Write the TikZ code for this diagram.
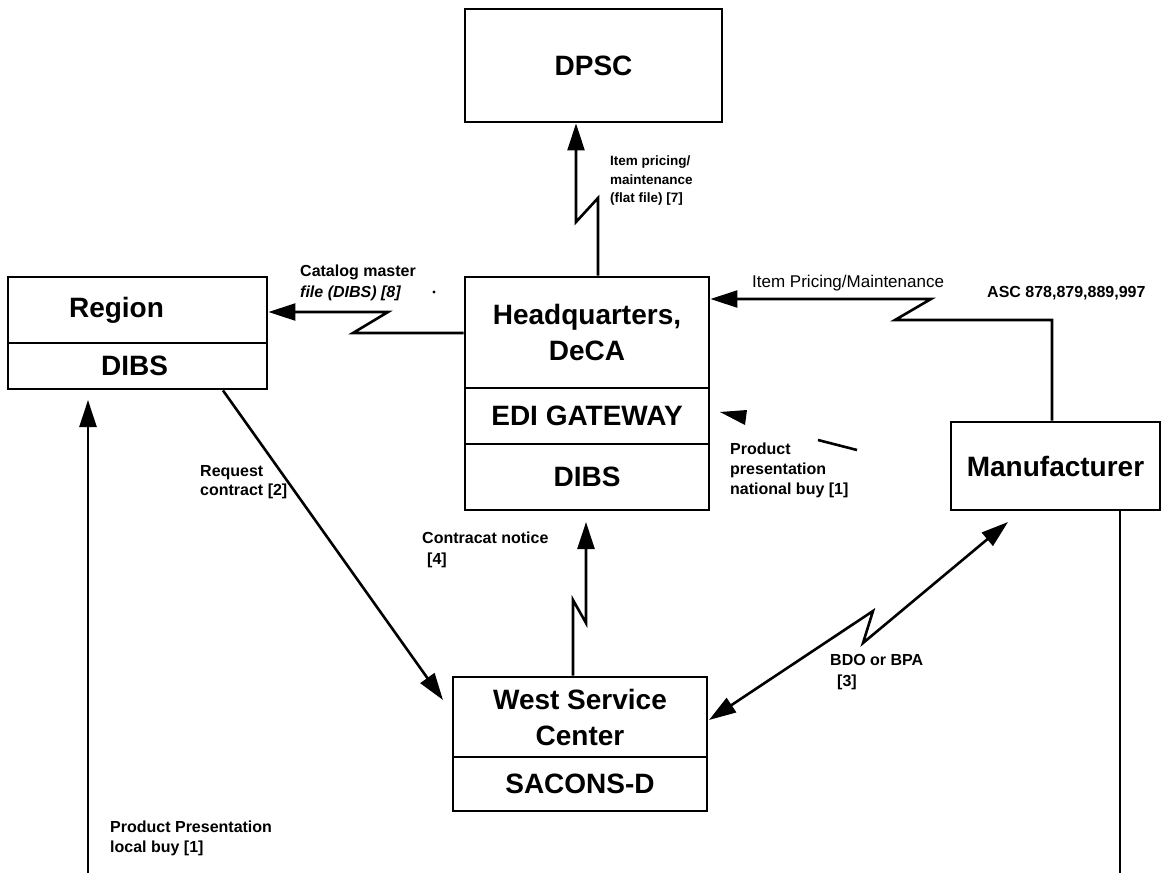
\documentclass[tikz,border=0pt]{standalone}
\usepackage{fontspec}
\setmainfont{Liberation Sans}
\usetikzlibrary{arrows.meta}
\begin{document}
\begin{tikzpicture}[x=1pt,y=-1pt,
  box/.style={draw,line width=2.9pt,inner sep=0pt,font=\bfseries\fontsize{28}{36}\selectfont,align=center},
  conn/.style={line width=2.6pt},
  tip/.style={-{Triangle[length=27pt,width=17pt]}},
  lbl/.style={inner sep=0pt,anchor=west,align=left,font=\bfseries\fontsize{16}{20}\selectfont}]
\useasboundingbox (0,0) rectangle (1164,873);

% boxes
\node[box,minimum width=257pt,minimum height=113pt] (dpsc) at (593.5,65.5) {DPSC};
\node[box,minimum width=259pt,minimum height=66pt] (region) at (137.5,310) {\hbox{Region\kern42pt}};
\node[box,minimum width=259pt,minimum height=46pt] (regdibs) at (137.5,366) {\hbox{DIBS\kern6pt}};
\node[box,minimum width=244pt,minimum height=111pt] (hqtop) at (587,332.5) {Headquarters,\\DeCA};
\node[box,minimum width=244pt,minimum height=56pt] (hqedi) at (587,416) {EDI GATEWAY};
\node[box,minimum width=244pt,minimum height=66pt] (hqdibs) at (587,477) {DIBS};
\node[box,minimum width=254pt,minimum height=80pt] (wsc) at (580,717) {West Service\\Center};
\node[box,minimum width=254pt,minimum height=54pt] (sacons) at (580,784) {SACONS-D};
\node[box,minimum width=209pt,minimum height=88pt] (mfr) at (1055.5,466) {Manufacturer};

% connector bend points
\coordinate (z1a) at (598,198); \coordinate (z1b) at (576,222);
\coordinate (z2a) at (353,333); \coordinate (z2b) at (388,312);
\coordinate (z3a) at (1052,320); \coordinate (z3b) at (895,320); \coordinate (z3c) at (931,299);
\coordinate (s4) at (223,389); \coordinate (t4) at (443,700);
\coordinate (z5a) at (573,600); \coordinate (z5b) at (586,623); \coordinate (t5) at (586,522);
\coordinate (t6a) at (709,720); \coordinate (z6a) at (873,611); \coordinate (z6b) at (863,643); \coordinate (t6b) at (1008,522);
\coordinate (b7) at (88,873); \coordinate (t7) at (88,400);
\coordinate (b8) at (1120,873);

% connectors
\draw[conn,tip] (hqtop.north -| z1a) -- (z1a) -- (z1b) -- (dpsc.south -| z1b);
\draw[conn,tip] (hqtop.west |- z2a) -- (z2a) -- (z2b) -- (region.east |- z2b);
\draw[conn,tip] (mfr.north -| z3a) -- (z3a) -- (z3b) -- (z3c) -- (hqtop.east |- z3c);
\draw[conn,tip] (regdibs.south -| s4) -- (t4);
\draw[conn,tip] (wsc.north -| z5a) -- (z5a) -- (z5b) -- (t5);
\draw[conn,{Triangle[length=27pt,width=17pt]}-{Triangle[length=27pt,width=17pt]}] (t6a) -- (z6a) -- (z6b) -- (t6b);
\draw[conn,tip] (b7) -- (t7);
\draw[conn] (mfr.south -| b8) -- (b8);

% stray marks
\fill (720,412) -- (747,410) -- (745,425) -- cycle;
\draw[conn] (818,440) -- (857,450);
\fill (434,292) circle (1.6pt);

% labels
\node[lbl,font=\bfseries\fontsize{13.5}{18.5}\selectfont] (l7) at (610,181) {Item pricing/\\maintenance\\(flat file) [7]};
\node[lbl,font=\bfseries\fontsize{16}{21}\selectfont] (l8) at (300,282.5) {Catalog master\\\textit{file (DIBS) [8]}};
\node[lbl,font=\fontsize{17}{20}\selectfont] (lip) at (752,283) {Item Pricing/Maintenance};
\node[lbl] (lasc) at (987,293) {ASC 878,879,889,997};
\node[lbl] (lppn) at (730,470) {Product\\presentation\\national buy [1]};
\node[lbl,font=\bfseries\fontsize{16}{19}\selectfont] (lrc) at (200,482.5) {Request\\contract [2]};
\node[lbl,font=\bfseries\fontsize{16}{21}\selectfont] (lcn) at (422,550) {Contracat notice\\\hspace*{5pt}[4]};
\node[lbl,font=\bfseries\fontsize{16}{21}\selectfont] (lbdo) at (830,672.5) {BDO or BPA\\\hspace*{7pt}[3]};
\node[lbl] (lpp) at (110,838) {Product Presentation\\local buy [1]};
\end{tikzpicture}
\end{document}
